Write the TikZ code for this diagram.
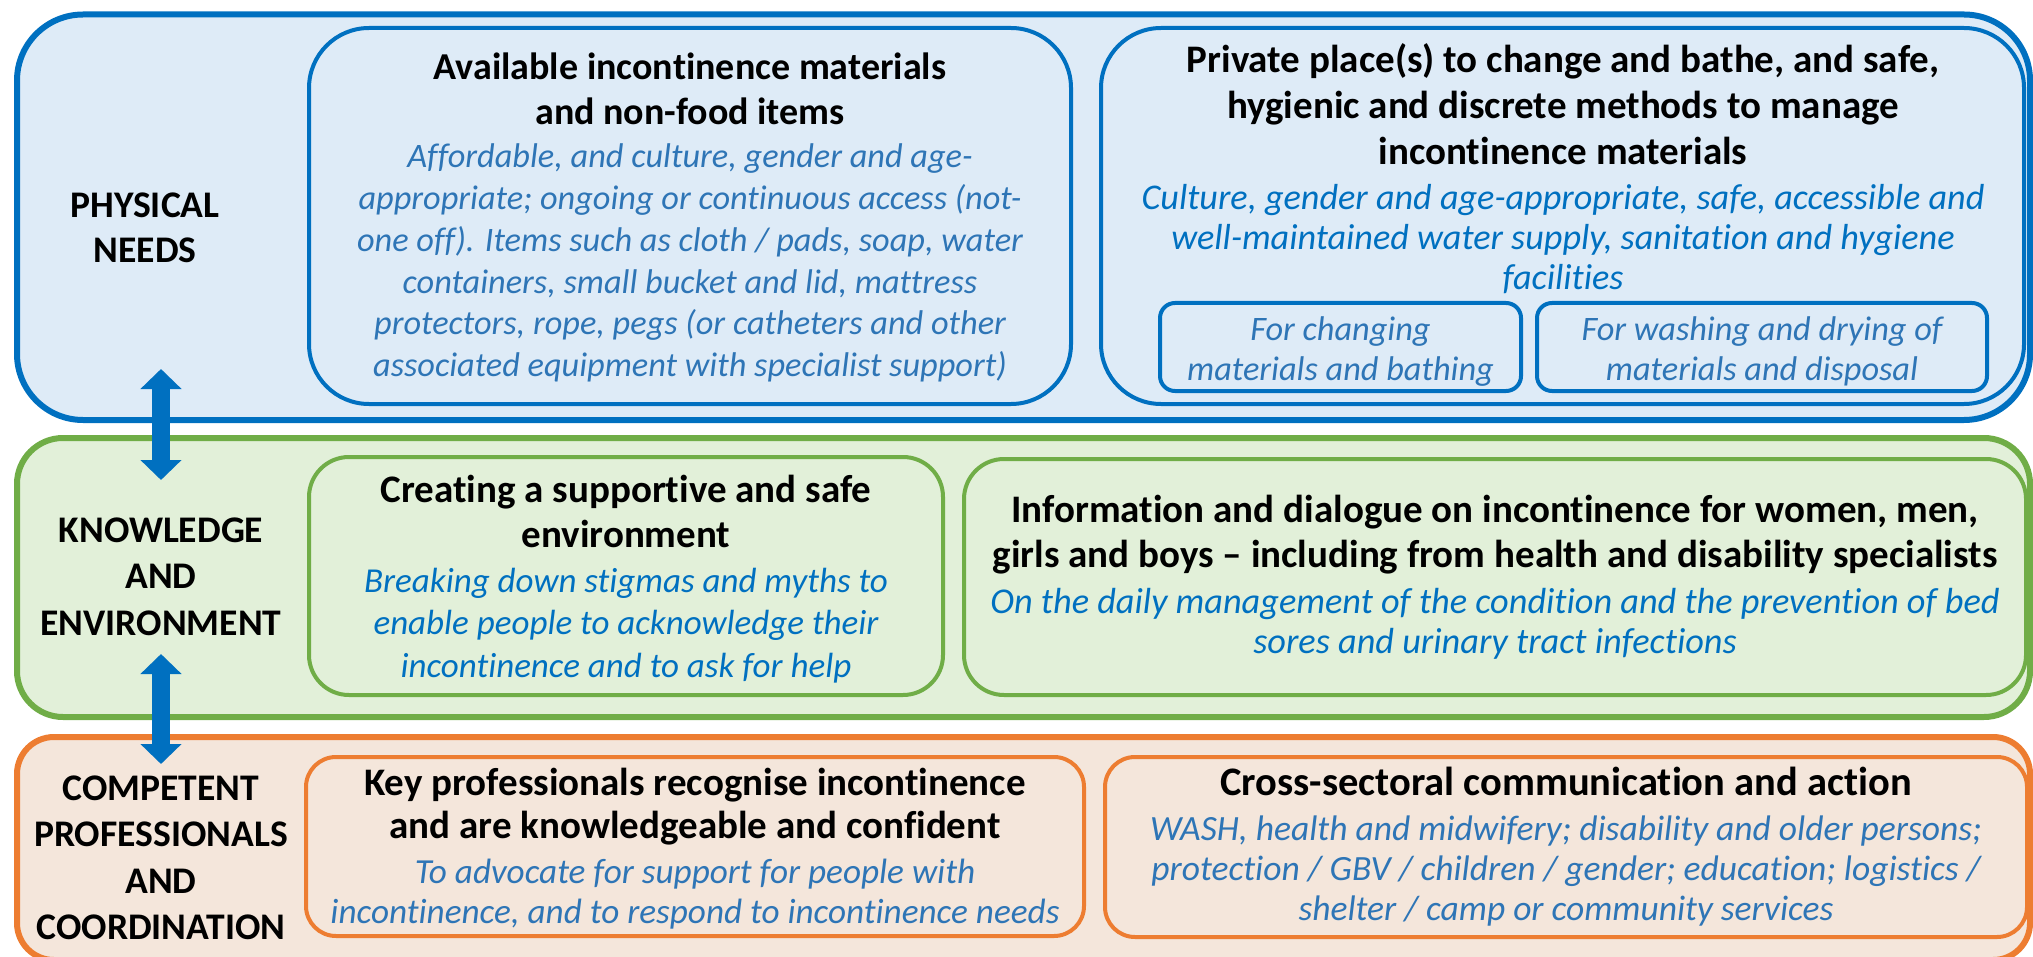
\documentclass[tikz,border=0pt]{standalone}
\usepackage{fontspec}
\setmainfont{Carlito}[Ligatures=NoCommon]
\usetikzlibrary{arrows.meta}
\definecolor{bstroke}{HTML}{0070C0}
\definecolor{bfill}{HTML}{DEEBF7}
\definecolor{gstroke}{HTML}{70AD47}
\definecolor{gfill}{HTML}{E2F0D9}
\definecolor{ostroke}{HTML}{ED7D31}
\definecolor{ofill}{HTML}{F4E6DB}
\definecolor{tmuted}{HTML}{2E75B6}
\definecolor{tbright}{HTML}{0070C0}
\newcommand\ml[1]{\vtop{\halign{\hfil##\hfil\cr#1\crcr}}}
\newcommand\hf[2]{\fontsize{#1}{#2}\selectfont\bfseries}
\newcommand\itf[2]{\fontsize{#1}{#2}\selectfont\itshape}
\begin{document}
\begin{tikzpicture}[x=1pt,y=-1pt,
  box/.style={rectangle,inner sep=0pt,outer sep=0pt},
  outerbox/.style={box,line width=6pt},
  innerbox/.style={box,line width=4pt},
  label/.style={anchor=base,inner sep=0pt,font=\hf{37.6}{46.5}},
  head/.style={anchor=base,inner sep=0pt,font=\hf{39}{45}},
  body/.style={anchor=base,inner sep=0pt},
  dblarrow/.style={draw=bstroke,line width=18pt,{Triangle[length=20pt,width=40pt]}-{Triangle[length=20pt,width=40pt]}}
]
\useasboundingbox (0,0) rectangle (2033,957);
% outer bands
\node[outerbox,draw=bstroke,fill=bfill,rounded corners=66pt,minimum width=2013pt,minimum height=405.5pt] (phys) at (1023.5,217.25) {};
\node[outerbox,draw=gstroke,fill=gfill,rounded corners=46pt,minimum width=2013pt,minimum height=279pt] (know) at (1023.5,577.5) {};
\node[outerbox,draw=ostroke,fill=ofill,rounded corners=37pt,minimum width=2013pt,minimum height=223pt] (comp) at (1023.5,848.5) {};
% inner boxes - physical
\node[innerbox,draw=bstroke,fill=bfill,rounded corners=60pt,minimum width=762pt,minimum height=376pt] (avail) at (690,216) {};
\node[innerbox,draw=bstroke,fill=bfill,rounded corners=60pt,minimum width=923pt,minimum height=376pt] (priv) at (1562.5,216) {};
\node[innerbox,draw=bstroke,fill=bfill,rounded corners=15pt,minimum width=361pt,minimum height=88pt] (chg) at (1340.5,347) {};
\node[innerbox,draw=bstroke,fill=bfill,rounded corners=15pt,minimum width=450pt,minimum height=88pt] (wash) at (1762,347) {};
% inner boxes - knowledge
\node[innerbox,draw=gstroke,fill=gfill,rounded corners=40pt,minimum width=634pt,minimum height=238pt] (create) at (626,576) {};
\node[innerbox,draw=gstroke,fill=gfill,rounded corners=40pt,minimum width=1062pt,minimum height=236pt] (info) at (1495,577) {};
% inner boxes - competent
\node[innerbox,draw=ostroke,fill=ofill,rounded corners=30pt,minimum width=778pt,minimum height=179pt] (keyp) at (695,846.5) {};
\node[innerbox,draw=ostroke,fill=ofill,rounded corners=30pt,minimum width=922pt,minimum height=180pt] (cross) at (1566,847) {};
% left labels
\node[label,font=\hf{37.6}{45}] (lphys) at (145,218) {\ml{PHYSICAL\cr NEEDS}};
\node[label] (lknow) at (161,542) {\ml{KNOWLEDGE\cr AND\cr ENVIRONMENT}};
\node[label] (lcomp) at (161,800) {\ml{COMPETENT\cr PROFESSIONALS\cr AND\cr COORDINATION}};
% texts physical
\node[head,font=\hf{38}{45}] (havail) at (690,80) {\ml{Available incontinence materials\cr and non-food items}};
\node[body,text=tmuted,font=\itf{34.3}{41.7}] (bavail) at (690,168) {\ml{Affordable, and culture, gender and age-\cr appropriate; ongoing or continuous access (not-\cr one off). Items such as cloth / pads, soap, water\cr containers, small bucket and lid, mattress\cr protectors, rope, pegs (or catheters and other\cr associated equipment with specialist support)}};
\node[head,font=\hf{39}{46}] (hpriv) at (1563,73) {\ml{Private place(s) to change and bathe, and safe,\cr hygienic and discrete methods to manage\cr incontinence materials}};
\node[body,text=tbright,font=\itf{36.2}{40}] (bpriv) at (1563,210) {\ml{Culture, gender and age-appropriate, safe, accessible and\cr well-maintained water supply, sanitation and hygiene\cr facilities}};
\node[body,text=tmuted,font=\itf{34.3}{40}] (tchg) at (1340.5,340) {\ml{For changing\cr materials and bathing}};
\node[body,text=tmuted,font=\itf{34.3}{40}] (twash) at (1762,340) {\ml{For washing and drying of\cr materials and disposal}};
% texts knowledge
\node[head] (hcreate) at (626,502) {\ml{Creating a supportive and safe\cr environment}};
\node[body,text=tbright,font=\itf{35}{42.5}] (bcreate) at (626,592) {\ml{Breaking down stigmas and myths to\cr enable people to acknowledge their\cr incontinence and to ask for help}};
\node[head] (hinfo) at (1495,522) {\ml{Information and dialogue on incontinence for women, men,\cr girls and boys -- including from health and disability specialists}};
\node[body,text=tbright,font=\itf{36.3}{40}] (binfo) at (1495,613) {\ml{On the daily management of the condition and the prevention of bed\cr sores and urinary tract infections}};
% texts competent
\node[head,font=\hf{39}{43}] (hkeyp) at (695,795) {\ml{Key professionals recognise incontinence\cr and are knowledgeable and confident}};
\node[body,text=tmuted,font=\itf{35.2}{40}] (bkeyp) at (695,883) {\ml{To advocate for support for people with\cr incontinence, and to respond to incontinence needs}};
\node[head,font=\hf{40.5}{43}] (hcross) at (1566,795) {Cross-sectoral communication and action};
\node[body,text=tmuted,font=\itf{35.5}{40}] (bcross) at (1566,840) {\ml{WASH, health and midwifery; disability and older persons;\cr protection / GBV / children / gender; education; logistics /\cr shelter / camp or community services}};
% arrows
\coordinate (a1t) at (161,369);
\coordinate (a1b) at (161,480);
\coordinate (a2t) at (161,654);
\coordinate (a2b) at (161,764);
\draw[dblarrow] (a1t) -- (a1b);
\draw[dblarrow] (a2t) -- (a2b);
\end{tikzpicture}
\end{document}
